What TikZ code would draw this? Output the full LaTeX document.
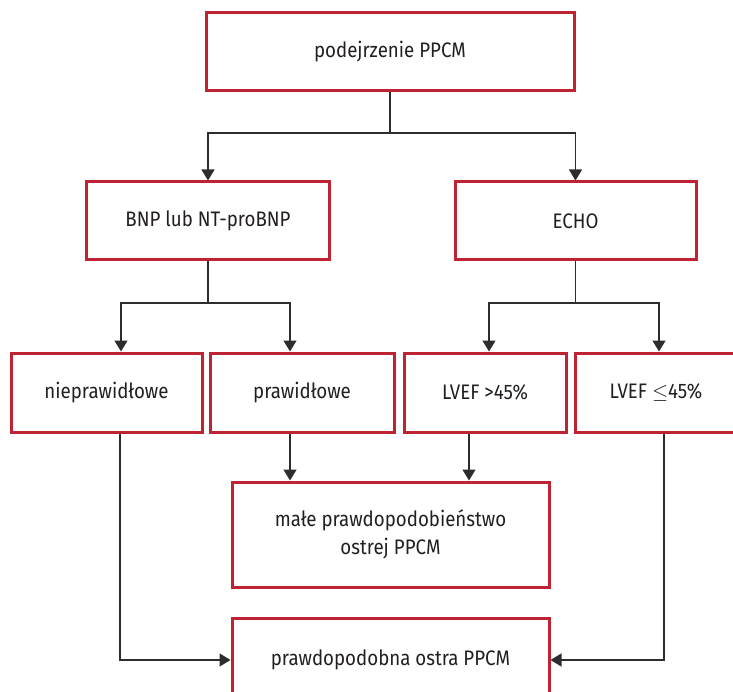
\documentclass[tikz,border=0pt]{standalone}
\usepackage{fontspec}
\setmainfont{Fira Sans}[FakeStretch=0.89]
\usetikzlibrary{arrows.meta}
\definecolor{boxred}{RGB}{190,35,52}
\definecolor{ink}{RGB}{35,31,32}
\definecolor{lineink}{RGB}{45,45,45}
\tikzset{
  box/.style={draw=boxred, line width=3pt, fill=white, rectangle, inner sep=0pt,
    text=ink, align=center, font=\fontsize{21}{28}\selectfont},
  conn/.style={draw=lineink, line width=1.4pt},
  arr/.style={conn, -{Triangle[width=13pt,length=11pt]}}
}
\begin{document}
\begin{tikzpicture}[x=1pt,y=-1pt]
\useasboundingbox (0,0) rectangle (733,692);
\fill[white] (0,0) rectangle (733,692);
\node[box, minimum width=368pt, minimum height=78pt] (top) at (390,52) {podejrzenie PPCM};
\node[box, minimum width=243pt, minimum height=78pt] (bnp) at (208,221) {BNP lub NT-proBNP};
\node[box, minimum width=241pt, minimum height=78pt] (echo) at (575.5,221) {ECHO};
\node[box, minimum width=191pt, minimum height=79pt] (niep) at (106.5,392.5) {nieprawidłowe};
\node[box, minimum width=184pt, minimum height=79pt] (praw) at (302,392.5) {prawidłowe};
\node[box, minimum width=162pt, minimum height=79pt] (lvefa) at (485,392.5) {LVEF >45\%};
\node[box, minimum width=162pt, minimum height=79pt] (lvefb) at (656,392.5) {LVEF \(\leq\)45\%};
\node[box, minimum width=317pt, minimum height=105pt] (male) at (390.5,534.5) {małe prawdopodobieństwo\\ostrej PPCM};
\node[box, minimum width=317pt, minimum height=84pt] (prob) at (390.5,660) {prawdopodobna ostra PPCM};

% top split
\coordinate (j1) at (390,133);
\draw[conn] (top.south) -- (j1);
\draw[arr] (j1) -| (bnp.north);
\draw[arr] (j1) -| (echo.north);
% bnp split
\coordinate (j2) at (208,303);
\draw[conn] (bnp.south) -- (j2);
\draw[arr] (j2) -| (niep.north -| 121,0);
\draw[arr] (j2) -| (praw.north -| 290,0);
% echo split
\coordinate (j3) at (575.5,303);
\draw[conn] (echo.south) -- (j3);
\draw[arr] (j3) -| (lvefa.north -| 489,0);
\draw[arr] (j3) -| (lvefb.north -| 659,0);
% to male
\draw[arr] (praw.south -| 290,0) -- (male.north -| 290,0);
\draw[arr] (lvefa.south -| 469,0) -- (male.north -| 469,0);
% to prob
\draw[arr] (niep.south -| 120,0) |- (prob.west);
\draw[arr] (lvefb.south -| 664,0) |- (prob.east);
\end{tikzpicture}
\end{document}
